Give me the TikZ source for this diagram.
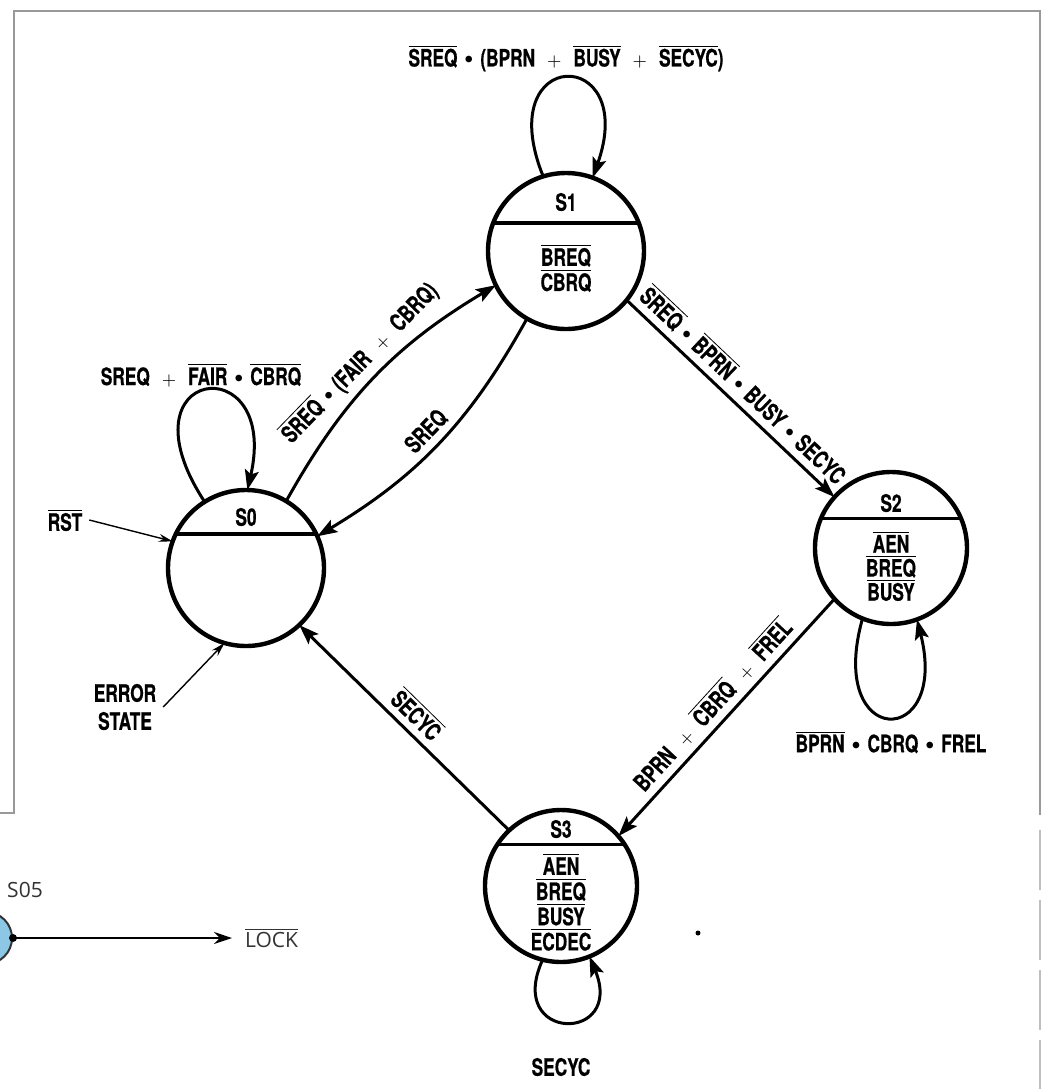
\documentclass[tikz,border=0pt]{standalone}
\usepackage{fontspec}
\usepackage{tikz}
\usetikzlibrary{positioning, arrows.meta, calc}

\newfontfamily\lblfont[FakeStretch=0.72, BoldFeatures={FakeBold=0.6}]{TeX Gyre Heros}
\newfontfamily\figfont{Open Sans}
\newcommand{\lbl}{\lblfont\bfseries\fontsize{12}{14}\selectfont}
\newcommand{\ovl}[1]{$\overline{\mbox{#1}}$}
\newcommand{\orsym}{\hspace{0.5em}{\fontsize{9}{9}\selectfont$+$}\hspace{0.5em}}
\newcommand{\andsym}{\hspace{0.3em}\raisebox{0.12em}{$\scriptstyle\bullet$}\hspace{0.3em}}
\definecolor{lockblue}{HTML}{8CC8E6}

\begin{document}
\begin{tikzpicture}[
    x=0.5pt, y=-0.5pt, % one unit = one pixel of the scan
    every node/.style={font=\lbl},
    state/.style={circle, draw, line width=2.2pt, minimum size=78pt, inner sep=0pt, outer sep=0pt},
    divider/.style={line width=1.8pt},
    trans/.style={-{Stealth[length=10pt, width=7pt, inset=2pt]}, line width=1.5pt},
    pointer/.style={-{Stealth[length=7pt, width=4pt]}, line width=0.7pt},
    frame/.style={line width=1pt, gray!80}
]
    \useasboundingbox (0,0) rectangle (1051,1089);
    \fill[white] (0,0) rectangle (1051,1089);
    \clip (0,0) rectangle (1051,1089);

    % frame of the scan
    \draw[frame] (0,813) -- (14,813) -- (14,11) -- (1040,11) -- (1040,815);
    \draw[frame, gray!50, dash pattern=on 30pt off 5pt] (1040,830) -- (1040,1089);

    % Place the states
    \node[state] (s0) at (246,568) {};
    \node[state] (s1) at (566,251) {};
    \node[state, minimum size=76pt] (s2) at (891,548) {};
    \node[state, minimum size=76pt] (s3) at (561,886) {};

    \draw[divider] (s0.154) -- (s0.26);
    \draw[divider] (s1.159) -- (s1.21);
    \draw[divider] (s2.157) -- (s2.23);
    \draw[divider] (s3.147) -- (s3.33);

    \node (n0) at (246,517) {S0};
    \node (n1) at (566,202) {S1};
    \node (n2) at (891,503) {S2};
    \node (n3) at (561,829) {S3};

    \node[align=center, font=\lbl\linespread{0.9}\selectfont] (o1) at (566,268) {\ovl{BREQ}\\\ovl{CBRQ}};
    \node[align=center, font=\lbl\linespread{0.86}\selectfont] (o2) at (891,566) {\ovl{AEN}\\\ovl{BREQ}\\\ovl{BUSY}};
    \node[align=center, font=\lbl\linespread{0.9}\selectfont] (o3) at (561,902) {\ovl{AEN}\\\ovl{BREQ}\\\ovl{BUSY}\\\ovl{ECDEC}};

    % Draw the transitions with labels
    \draw[trans] (s0.59) to[bend left=15]
        node[sloped, above] {\ovl{SREQ}\andsym(FAIR\orsym CBRQ)} (s1.206);
    \draw[trans] (s1.240) to[bend left=15]
        node[sloped, above] {SREQ} (s0.24);
    \draw[trans] (s1.321) --
        node[sloped, above] {\ovl{SREQ}\andsym\ovl{BPRN}\andsym BUSY\andsym SECYC} (s2.138);
    \draw[trans] (s2.222) --
        node[sloped, above] {BPRN\orsym\ovl{CBRQ}\orsym\ovl{FREL}} (s3.41);
    \draw[trans] (s3.133) -- node[sloped, above] {\ovl{SECYC}} (s0.313);

    % self loops
    \draw[trans] (s1.107) .. controls +(-53,-131) and +(47,-133) .. (s1.70);
    \draw[trans] (s0.122) .. controls +(-89,-136) and +(33,-144) .. (s0.89);
    \draw[trans] (s2.248) .. controls +(-37,131) and +(33,131) .. (s2.290);
    \draw[trans] (s3.256) .. controls +(-38,83) and +(36,87) .. (s3.292);

    \node (l1) at (566,58) {\ovl{SREQ}\andsym(BPRN\orsym\ovl{BUSY}\orsym\ovl{SECYC})};
    \node (l0) at (201,375) {SREQ\orsym\ovl{FAIR}\andsym\ovl{CBRQ}};
    \node (l2) at (891,742) {\ovl{BPRN}\andsym CBRQ\andsym FREL};
    \node (l3) at (561,1067) {SECYC};

    % reset and error state
    \node (rst) at (65,520) {\ovl{RST}};
    \node[align=center] (err) at (125,707) {ERROR\\STATE};
    \draw[pointer] (rst.east) -- (s0.160);
    \draw[pointer] (err.east) -- (s0.254);

    \fill (698,933) circle (2.5);

    % piece of the neighbouring figure
    \node[circle, draw=black!80, fill=lockblue, line width=1pt, minimum size=26pt] (c05) at (-14,938) {};
    \fill (c05.east) circle (4);
    \node[font=\figfont\fontsize{10.5}{12}\selectfont, text=black!80] (s05) at (25,890) {S05};
    \node[font=\figfont\fontsize{10.5}{12}\selectfont, text=black!80, anchor=west] (lock) at (238,938) {\ovl{LOCK}};
    \draw[-{Stealth[length=9pt, width=6pt]}, line width=0.9pt, shorten >=3pt] (c05.east) -- (lock.west);
\end{tikzpicture}
\end{document}
